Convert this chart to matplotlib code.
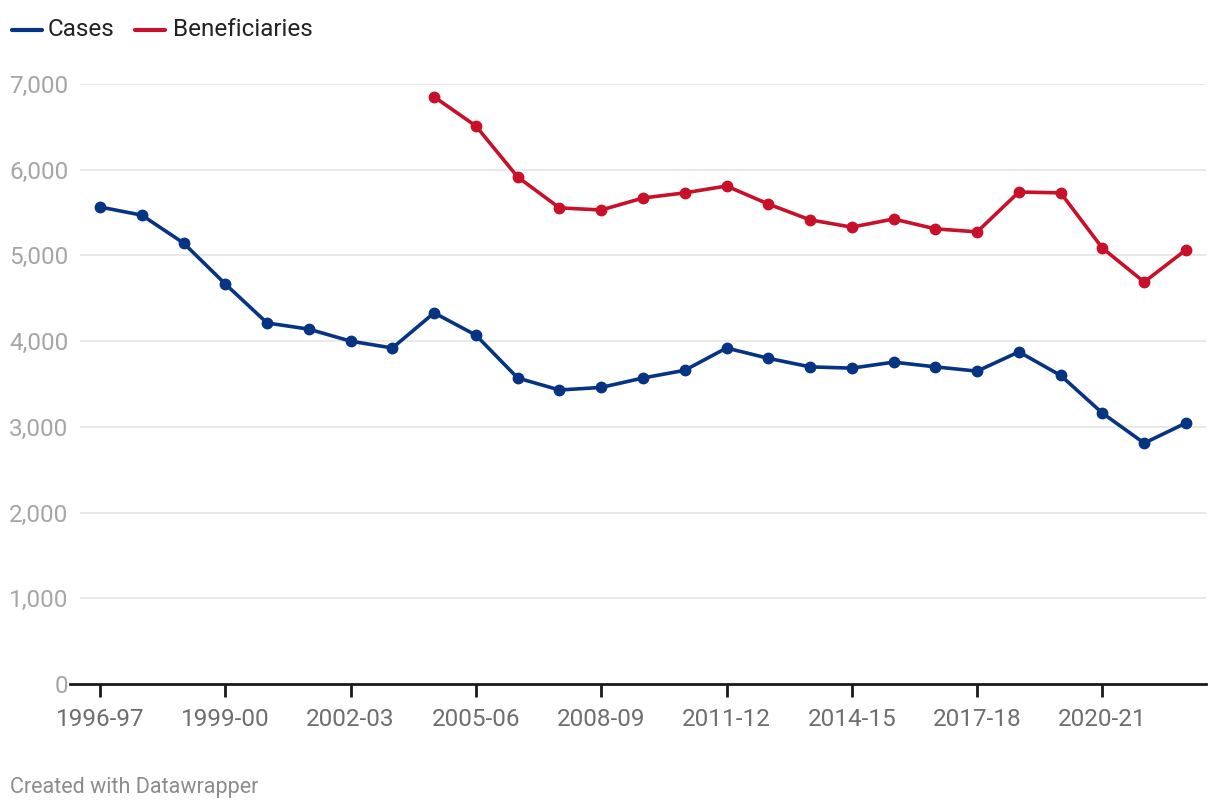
import matplotlib
matplotlib.use("Agg")
import matplotlib.pyplot as plt
from matplotlib.lines import Line2D
import numpy as np

plt.rcParams['font.family'] = ['Roboto', 'DejaVu Sans']

years = ["1996-97", "1997-98", "1998-99", "1999-00", "2000-01", "2001-02", "2002-03",
         "2003-04", "2004-05", "2005-06", "2006-07", "2007-08", "2008-09", "2009-10",
         "2010-11", "2011-12", "2012-13", "2013-14", "2014-15", "2015-16", "2016-17",
         "2017-18", "2018-19", "2019-20", "2020-21", "2021-22", "2022-23"]
cases = [5565, 5470, 5145, 4667, 4212, 4140, 4000, 3920, 4330, 4070, 3570, 3430, 3460,
         3570, 3660, 3920, 3800, 3700, 3685, 3755, 3700, 3650, 3875, 3600, 3160, 2810, 3045]
beneficiaries = [None] * 8 + [6850, 6510, 5915, 5555, 5530, 5670, 5730, 5810, 5600, 5415,
                              5330, 5425, 5310, 5275, 5740, 5730, 5085, 4690, 5065]
yticks = [0, 1000, 2000, 3000, 4000, 5000, 6000, 7000]
ytick_labels = ["0", "1,000", "2,000", "3,000", "4,000", "5,000", "6,000", "7,000"]

blue = "#073482"
red = "#c9102b"

W, H = 1220, 810
fig = plt.figure(figsize=(W / 100, H / 100), dpi=100)
left, right, bottom, top = 70, 1206, 684, 84
ax = fig.add_axes([left / W, (H - bottom) / H, (right - left) / W, (bottom - top) / H])

x = np.arange(len(years))
ax.set_xlim(-0.718, 26.48)
ax.set_ylim(0, 7000)

for yv in yticks[1:]:
    ax.axhline(yv, xmin=(81 - left) / (right - left), xmax=1, color="#e3e3e3", lw=1.1, zorder=0)

ax.plot(x, cases, color=blue, lw=2.6, marker="o", ms=7.5, zorder=3, clip_on=False,
        solid_capstyle="round", solid_joinstyle="round")
bx = [i for i, v in enumerate(beneficiaries) if v is not None]
bv = [v for v in beneficiaries if v is not None]
ax.plot(bx, bv, color=red, lw=2.6, marker="o", ms=7.5, zorder=3, clip_on=False,
        solid_capstyle="round", solid_joinstyle="round")

for s in ["top", "right", "left"]:
    ax.spines[s].set_visible(False)
ax.spines["bottom"].set_color("#1a1a1a")
ax.spines["bottom"].set_linewidth(2)

ax.set_yticks(yticks)
ax.set_yticklabels(ytick_labels, color="#a6a6a6", fontsize=17.5)
ax.tick_params(axis="y", length=0, pad=1)

xt = list(range(0, len(years), 3))
ax.set_xticks(xt)
ax.set_xticklabels([years[i] for i in xt], color="#6e6e6e", fontsize=17.5)
ax.tick_params(axis="x", length=9, width=2, color="#1a1a1a", pad=8, direction="out")

# legend
ly = 1 - 30 / H
fig.add_artist(Line2D([12 / W, 42 / W], [ly, ly], color=blue, lw=3, solid_capstyle="round"))
fig.text(48 / W, ly, "Cases", fontsize=17.5, color="#222222", va="center", ha="left")
fig.add_artist(Line2D([135 / W, 165 / W], [ly, ly], color=red, lw=3, solid_capstyle="round"))
fig.text(173 / W, ly, "Beneficiaries", fontsize=17.5, color="#222222", va="center", ha="left")

fig.text(10 / W, 1 - 787 / H, "Created with Datawrapper", fontsize=15.5, color="#8c8c8c",
         va="center", ha="left")

fig.savefig("out.png", dpi=100, facecolor="white")
